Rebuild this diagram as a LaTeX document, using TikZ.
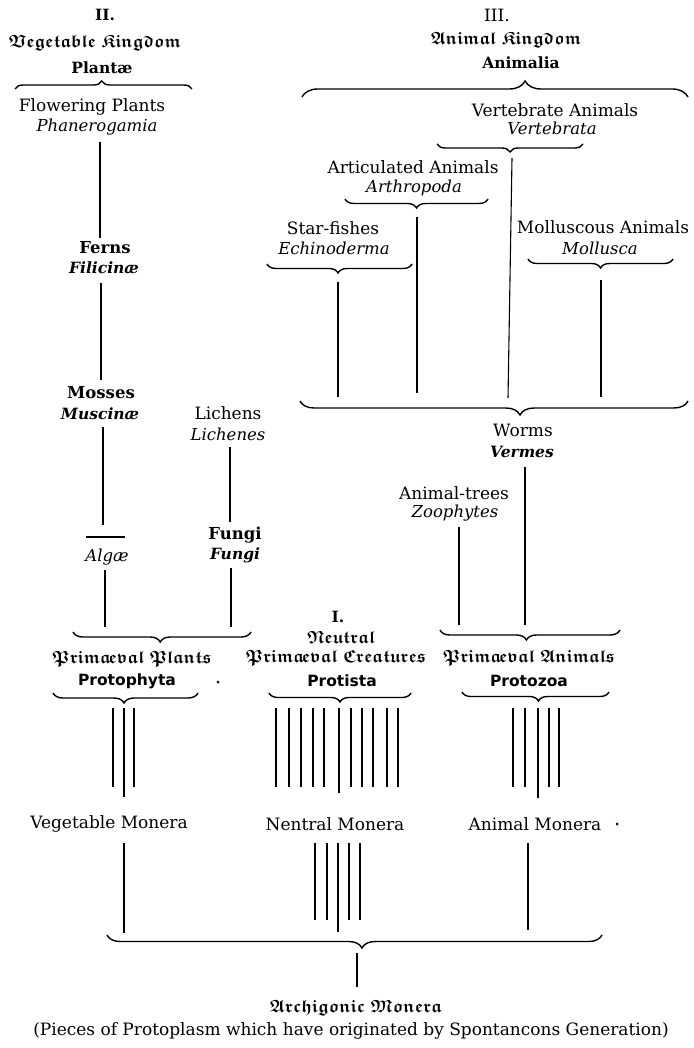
\documentclass[tikz,border=0pt]{standalone}
\usepackage{amssymb}
\usepackage{fontspec}
\setmainfont{DejaVu Serif}
\newfontfamily\protofont{DejaVu Sans}
\usetikzlibrary{decorations.pathreplacing,calc}
\newcommand{\fk}[1]{\ensuremath{\mathfrak{#1}}}
\newcommand{\fae}{a\mkern-2mu e}
\tikzset{
  every node/.style={inner sep=0pt, anchor=center},
  txt/.style={font=\fontsize{17}{19}\selectfont},
  itl/.style={font=\fontsize{16.5}{19}\selectfont\itshape},
  bd/.style={font=\fontsize{15.5}{18}\selectfont\bfseries},
  bdb/.style={font=\fontsize{16.5}{19}\selectfont\bfseries},
  bdit/.style={font=\fontsize{15.5}{18}\selectfont\bfseries\itshape},
  frk/.style={font=\fontsize{17.7}{20}\selectfont\boldmath},
  proto/.style={font=\fontsize{15.5}{18}\selectfont\protofont\bfseries},
  ln/.style={line width=1.1pt},
  brup/.style 2 args={decorate, decoration={brace, amplitude=#1, aspect=#2}, line width=1.4pt},
  brdn/.style 2 args={decorate, decoration={brace, mirror, amplitude=#1, aspect=#2}, line width=1.4pt},
  dotm/.style={circle, fill=black, minimum size=3pt}
}
\begin{document}
\begin{tikzpicture}[x=1pt, y=-1pt]
\useasboundingbox (0,0) rectangle (693,1048);
\fill[white] (0,0) rectangle (693,1048);
% ---------- Vegetable kingdom ----------
\node[bd]  (n2)      at (105,15)  {II.};
\node[frk] (vk)      at (95,43)   {\fk{Vegetable\ Kingdom}};
\node[bd]  (plantae) at (102,68)  {Plantæ};
\draw[brup={8pt}{0.49}] (15,89) -- (192,89);
\node[txt] (flow)    at (92,107)  {Flowering Plants};
\node[itl] (phan)    at (97,127)  {Phanerogamia};
\node[bdb] (ferns)   at (105,248) {Ferns};
\node[bdit](filic)   at (104,268) {Filicinæ};
\node[bdb] (mosses)  at (101,393) {Mosses};
\node[bdit](musc)    at (100,414) {Muscinæ};
\node[itl] (algae)   at (107,557) {Algæ};
\node[txt] (lich)    at (228,413) {Lichens};
\node[itl] (liches)  at (228,434) {Lichenes};
\node[bdb] (fungi)   at (235,535) {Fungi};
\node[bdit](fungit)  at (235,555) {Fungi};
% ---------- Animal kingdom ----------
\node[txt] (n3)      at (497,15)  {III.};
\node[frk] (ak)      at (506,40)  {\fk{Animal\ Kingdom}};
\node[bd]  (anim)    at (521,63)  {Animalia};
\draw[brup={16pt}{0.578}] (302,97) -- (688,97);
\node[txt] (vert)    at (555,110) {Vertebrate Animals};
\node[itl] (vertit)  at (552,128) {Vertebrata};
\draw[brdn={8pt}{0.5}] (437,144) -- (583,144);
\node[txt] (art)     at (413,167) {Articulated Animals};
\node[itl] (arth)    at (414,188) {Arthropoda};
\draw[brdn={9pt}{0.5}] (345,199) -- (488,199);
\node[txt] (star)    at (333,228) {Star-fishes};
\node[itl] (echi)    at (334,248) {Echinoderma};
\draw[brdn={9pt}{0.49}] (267,264) -- (412,264);
\node[txt] (moll)    at (603,227) {Molluscous Animals};
\node[itl] (mollit)  at (600,248) {Mollusca};
\draw[brdn={9pt}{0.5}] (528,259) -- (673,259);
\draw[brdn={14pt}{0.567}] (300,401) -- (688,401);
\node[txt] (worms)   at (523,430) {Worms};
\node[bdit](vermes)  at (522,452) {Vermes};
\node[txt] (atrees)  at (454,493) {Animal-trees};
\node[itl] (zoo)     at (455,513) {Zoophytes};
% ---------- Protista row ----------
\draw[brdn={10pt}{0.49}] (73,632) -- (251,632);
\node[frk] (pplants) at (132,659) {\fk{Prim\fae val\ Plants}};
\node[proto](protophyta) at (127,681) {Protophyta};
\draw[brdn={10pt}{0.49}] (53,693) -- (198,693);
\node[bd]  (n1)      at (338,617) {I.};
\node[frk] (neutral) at (341,637) {\fk{Neutral}};
\node[frk] (pcreat)  at (336,658) {\fk{Prim\fae val\ Creatures}};
\node[proto](protista) at (342,681) {Protista};
\draw[brdn={9pt}{0.5}] (269,693) -- (411,693);
\draw[brdn={10pt}{0.48}] (440,630) -- (620,630);
\node[frk] (panim)   at (529,658) {\fk{Prim\fae val\ Animals}};
\node[proto](protozoa) at (529,681) {Protozoa};
\draw[brdn={9pt}{0.52}] (462,692) -- (609,692);
\node[dotm] (dot1) at (218,682) {};
% ---------- Monera ----------
\node[txt] (vmon)    at (109,824) {Vegetable Monera};
\node[txt] (nmon)    at (335,824) {Nentral Monera};
\node[txt] (amon)    at (535,824) {Animal Monera};
\node[dotm] (dot2) at (617,824) {};
\draw[brdn={13pt}{0.515}] (107,935) -- (602,935);
\node[frk] (arch)    at (356,1008) {\fk{Archigonic\ Monera}};
\node[txt] (pieces)  at (351,1031) {(Pieces of Protoplasm which have originated by Spontancons Generation)};
% ---------- connectors ----------
\draw[ln] ($(phan)+(3,15)$) -- ($(ferns)+(-5,-10)$);
\draw[ln] ($(filic)+(-3,15)$) -- ($(mosses)+(0,-13)$);
\draw[ln] ($(musc)+(3,13)$) -- ($(algae)+(-4,-32)$);
\draw[ln] ($(algae)+(-21,-20)$) -- ($(algae)+(18,-20)$);
\draw[ln] ($(algae)+(-2,13)$) -- ($(pplants)+(-27,-32)$);
\draw[ln] ($(liches)+(2,13)$) -- ($(fungi)+(-5,-13)$);
\draw[ln] ($(fungit)+(-4,13)$) -- ($(pplants)+(99,-32)$);
\draw[ln] ($(vertit)+(-40,30)$) -- ($(worms)+(-15,-32)$);
\draw[ln] ($(arth)+(3,29)$) -- ($(worms)+(-106,-37)$);
\draw[ln] ($(echi)+(4,34)$) -- ($(worms)+(-185,-33)$);
\draw[ln] ($(mollit)+(1,32)$) -- ($(worms)+(78,-33)$);
\draw[ln] ($(vermes)+(3,15)$) -- ($(panim)+(-4,-33)$);
\draw[ln] ($(zoo)+(4,14)$) -- ($(panim)+(-70,-33)$);
\foreach \dx in {-14,7}
  \draw[ln] ($(protophyta)+(\dx,27)$) -- ($(vmon)+(\dx+18,-37)$);
\draw[ln] ($(protophyta)+(-3,27)$) -- ($(vmon)+(15,-27)$);
\foreach \dx in {-66,-53,-41,-29,-18,9,20,31,45,56}
  \draw[ln] ($(protista)+(\dx,27)$) -- ($(nmon)+(\dx+7,-37)$);
\draw[ln] ($(protista)+(-3,27)$) -- ($(nmon)+(4,-31)$);
\foreach \dx in {-16,-4,20,30}
  \draw[ln] ($(protozoa)+(\dx,27)$) -- ($(amon)+(\dx-6,-37)$);
\draw[ln] ($(protozoa)+(9,27)$) -- ($(amon)+(3,-26)$);
\draw[ln] ($(vmon)+(15,19)$) -- ($(arch)+(-232,-75)$);
\foreach \dx in {-20,-8,14,25}
  \draw[ln] ($(nmon)+(\dx,19)$) -- ($(arch)+(\dx-21,-88)$);
\draw[ln] ($(nmon)+(3,19)$) -- ($(arch)+(-18,-76)$);
\draw[ln] ($(amon)+(-7,19)$) -- ($(arch)+(172,-78)$);
\draw[ln] ($(arch)+(1,-55)$) -- ($(arch)+(1,-21)$);
\end{tikzpicture}
\end{document}
